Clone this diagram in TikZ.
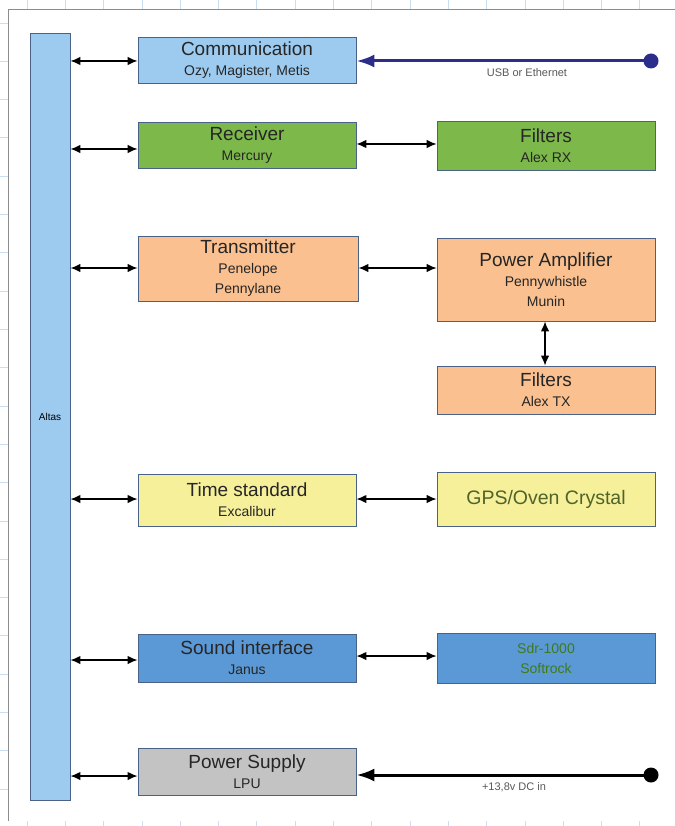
\documentclass[tikz,border=0pt]{standalone}
\usepackage{fontspec}
\setmainfont{Liberation Sans}
\usetikzlibrary{arrows.meta}
\definecolor{gridblue}{HTML}{C9DEF3}
\definecolor{framegray}{HTML}{8C8C8C}
\definecolor{boxedge}{HTML}{4A6288}
\definecolor{lblue}{HTML}{9DCBF0}
\definecolor{lgreen}{HTML}{7DB84A}
\definecolor{lorange}{HTML}{FAC08F}
\definecolor{lyellow}{HTML}{F7F09A}
\definecolor{mblue}{HTML}{5B98D6}
\definecolor{lgray}{HTML}{C3C3C3}
\definecolor{navy}{HTML}{2C2C8A}
\definecolor{olivetext}{HTML}{4F632A}
\definecolor{sdrgreen}{HTML}{3E7A1C}
\newcommand{\ttl}{\fontsize{19}{20}\selectfont}
\tikzset{
  blk/.style={draw=boxedge, line width=0.8pt, minimum width=218pt, align=center, inner sep=0pt,
              text=black!85, font=\fontsize{14}{20}\selectfont},
  link/.style={line width=1.4pt, {Latex[length=10pt,width=8.5pt]}-{Latex[length=10pt,width=8.5pt]}},
  lbl/.style={font=\fontsize{11}{13}\selectfont, text=black!65, inner sep=0pt}
}
\begin{document}
\begin{tikzpicture}[x=1pt,y=-1pt]
\useasboundingbox (0,0) rectangle (674,826);
% grid background
\fill[white] (0,0) rectangle (674,826);
\foreach \gx in {27,65.3,103.6,141.9,180.2,218.5,256.8,295.1,333.4,371.7,410,448.3,486.6,524.9,563.2,601.5,639.8}
  \draw[gridblue, line width=0.8pt] (\gx,0) -- (\gx,826);
\foreach \gy in {23,61.3,99.6,137.9,176.2,214.5,252.8,291.1,329.4,367.7,406,444.3,482.6,520.9,559.2,597.5,635.8,674.1,712.4,750.7,789}
  \draw[gridblue, line width=0.8pt] (0,\gy) -- (674,\gy);
% page frame
\fill[white] (8,9) rectangle (680,821);
\draw[framegray, line width=0.9pt] (8,821) -- (8,9) -- (680,9);
% nodes
\node[draw=boxedge, fill=lblue, line width=0.8pt, minimum width=40pt, minimum height=767pt, inner sep=0pt,
      font=\fontsize{10}{12}\selectfont] (altas) at (50,416.5) {Altas};
\node[blk, fill=lblue, minimum height=46pt] (comm) at (247,60) {{\ttl Communication}\\Ozy, Magister, Metis};
\node[blk, fill=lgreen, minimum height=46pt] (recv) at (247,145) {{\ttl Receiver}\\Mercury};
\node[blk, fill=lgreen, minimum height=49pt] (frx) at (546,145.5) {{\ttl Filters}\\Alex RX};
\node[blk, fill=lorange, minimum height=65pt, minimum width=220pt] (tx) at (248,268.5) {{\ttl Transmitter}\\Penelope\\Pennylane};
\node[blk, fill=lorange, minimum height=83pt] (pa) at (546,279.5) {{\ttl Power Amplifier}\\Pennywhistle\\Munin};
\node[blk, fill=lorange, minimum height=48pt] (ftx) at (546,390) {{\ttl Filters}\\Alex TX};
\node[blk, fill=lyellow, minimum height=52pt] (time) at (247,500) {{\ttl Time standard}\\Excalibur};
\node[blk, fill=lyellow, minimum height=54pt, text=olivetext, font=\fontsize{19.5}{22}\selectfont] (gps) at (546,499) {GPS/Oven Crystal};
\node[blk, fill=mblue, minimum height=50pt, text=sdrgreen] (sdr) at (546,658) {Sdr-1000\\Softrock};
\node[blk, fill=mblue, minimum height=48pt] (sound) at (247,658) {{\ttl Sound interface}\\Janus};
\node[blk, fill=lgray, minimum height=47pt] (psu) at (247,771.5) {{\ttl Power Supply}\\LPU};
% connectors from Altas
\draw[link] (altas.east |- 0,61) -- (comm.west |- 0,61);
\draw[link] (altas.east |- 0,149) -- (recv.west |- 0,149);
\draw[link] (altas.east |- 0,268) -- (tx.west |- 0,268);
\draw[link] (altas.east |- 0,499) -- (time.west |- 0,499);
\draw[link] (altas.east |- 0,660) -- (sound.west |- 0,660);
\draw[link] (altas.east |- 0,776) -- (psu.west |- 0,776);
% other connectors
\draw[link] (recv.east |- 0,144) -- (frx.west |- 0,144);
\draw[link] (tx.east |- 0,268) -- (pa.west |- 0,268);
\draw[link] (pa.south -| 545,0) -- (ftx.north -| 545,0);
\draw[link] (time.east |- 0,499) -- (gps.west |- 0,499);
\draw[link] (sound.east |- 0,656) -- (sdr.west |- 0,656);
% external links
\coordinate (usbend) at (651,61);
\coordinate (dcend) at (651,775);
\draw[navy, line width=3pt, -{Latex[length=18pt,width=13pt]}] (usbend) -- (comm.east |- usbend);
\fill[navy] (usbend) circle (7.5pt);
\node[lbl] (usblbl) at (527,73) {USB or Ethernet};
\draw[black, line width=3pt, -{Latex[length=18pt,width=13pt]}] (dcend) -- (psu.east |- dcend);
\fill[black] (dcend) circle (7.5pt);
\node[lbl] (dclbl) at (514,787) {+13,8v DC in};
\end{tikzpicture}
\end{document}
